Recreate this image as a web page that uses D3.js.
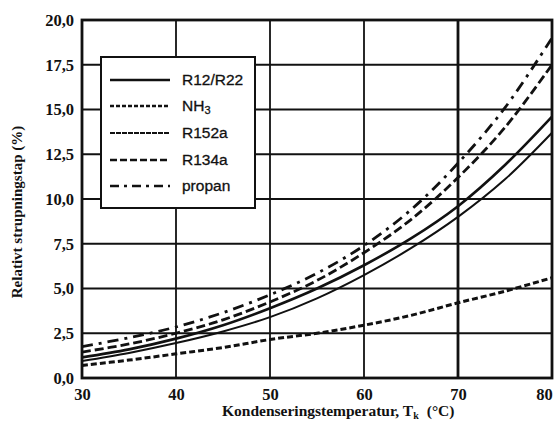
<!DOCTYPE html>
<html><head><meta charset="utf-8">
<script src="https://cdn.jsdelivr.net/npm/d3@7"></script>
<style>html,body{margin:0;padding:0;background:#fff;}svg{display:block;}</style>
</head><body>
<svg id="c" width="555" height="427"></svg>
<script>
const temps = [30, 35, 40, 45, 50, 55, 60, 65, 70, 75, 80];
const r12r22 = [1.15, 1.6, 2.2, 2.95, 3.9, 5.0, 6.3, 7.8, 9.6, 11.9, 14.6];
const nh3    = [0.7, 1.0, 1.35, 1.7, 2.15, 2.5, 2.95, 3.5, 4.2, 4.85, 5.6];
const r152a  = [0.95, 1.4, 1.95, 2.6, 3.4, 4.45, 5.75, 7.25, 9.0, 11.1, 13.7];
const r134a  = [1.45, 1.9, 2.5, 3.25, 4.25, 5.45, 7.0, 8.85, 11.2, 14.0, 17.5];
const propan = [1.75, 2.25, 2.85, 3.65, 4.65, 5.85, 7.4, 9.4, 12.0, 15.1, 19.0];
const seriesNames = ["R12/R22", "NH3", "R152a", "R134a", "propan"];
const xTicks = [30, 40, 50, 60, 70, 80];
const yTicks = [0, 2.5, 5, 7.5, 10, 12.5, 15, 17.5, 20];

const styles = {
  "R12/R22": {w: 2.6, dash: null},
  "NH3":     {w: 3.0, dash: "6,3"},
  "R152a":   {w: 2.0, dash: null},
  "R134a":   {w: 2.8, dash: "9,4"},
  "propan":  {w: 2.8, dash: "11,6,3,6"}
};
const legendDash = {
  "R12/R22": null, "NH3": "4,2", "R152a": "5,1", "R134a": "7,3", "propan": "9,5,3,5"
};
const seriesData = {"R12/R22": r12r22, "NH3": nh3, "R152a": r152a, "R134a": r134a, "propan": propan};

const svg = d3.select("#c");
const L = 82, R = 552, T = 20, B = 378;
const x = d3.scaleLinear().domain([30, 80]).range([L, R]);
const y = d3.scaleLinear().domain([0, 20]).range([B, T]);
const serif = "'Liberation Serif','DejaVu Serif',serif";
const sans = "'Liberation Sans',Arial,sans-serif";

// grid
const g = svg.append("g");
g.selectAll("line.h").data(yTicks.filter(d => d > 0 && d < 20)).enter().append("line")
  .attr("x1", L).attr("x2", R).attr("y1", d => y(d)).attr("y2", d => y(d))
  .attr("stroke", "#111").attr("stroke-width", 1.8);
g.selectAll("line.v").data(xTicks.filter(d => d > 30 && d < 80)).enter().append("line")
  .attr("y1", T).attr("y2", B).attr("x1", d => x(d)).attr("x2", d => x(d))
  .attr("stroke", "#111").attr("stroke-width", d => d === 70 ? 2.8 : 1.8);

// axes (labels via d3 axis)
const yAxis = d3.axisLeft(y).tickValues(yTicks).tickSize(0).tickPadding(8)
  .tickFormat(d => d3.format(".1f")(d).replace(".", ","));
const ya = svg.append("g").attr("transform", `translate(${L},0)`).call(yAxis);
ya.select(".domain").remove();
ya.selectAll("text").attr("font-family", serif).attr("font-weight", "bold").attr("font-size", 16.5).attr("fill", "#111");

const xAxis = d3.axisBottom(x).tickValues(xTicks).tickSize(0).tickPadding(10).tickFormat(d3.format("d"));
const xa = svg.append("g").attr("transform", `translate(0,${B})`).call(xAxis);
xa.select(".domain").remove();
xa.selectAll("text").attr("font-family", serif).attr("font-weight", "bold").attr("font-size", 16.5).attr("fill", "#111")
  .attr("dx", d => d === 80 ? -8 : 0);

// curves
svg.append("clipPath").attr("id", "pc").append("rect")
  .attr("x", L).attr("y", T).attr("width", R - L).attr("height", B - T);
const line = d3.line().x((d, i) => x(temps[i])).y(d => y(d)).curve(d3.curveCatmullRom);
seriesNames.forEach(n => {
  svg.append("path").datum(seriesData[n]).attr("d", line)
    .attr("fill", "none").attr("stroke", "#111")
    .attr("stroke-width", styles[n].w)
    .attr("stroke-dasharray", styles[n].dash)
    .attr("clip-path", "url(#pc)");
});

// frame
svg.append("rect").attr("x", L).attr("y", T).attr("width", R - L).attr("height", B - T)
  .attr("fill", "none").attr("stroke", "#111").attr("stroke-width", 2.8);

// legend
const lg = svg.append("g");
lg.append("rect").attr("x", 101).attr("y", 57).attr("width", 154).attr("height", 151)
  .attr("fill", "#fff").attr("stroke", "#111").attr("stroke-width", 2);
const rowY = [80, 106, 133, 160, 186];
seriesNames.forEach((n, i) => {
  lg.append("line").attr("x1", 110).attr("x2", 170).attr("y1", rowY[i]).attr("y2", rowY[i])
    .attr("stroke", "#111").attr("stroke-width", n === "R152a" ? 1.8 : 2.4)
    .attr("stroke-dasharray", legendDash[n]);
  const t = lg.append("text").attr("x", 182).attr("y", rowY[i] + 5)
    .attr("font-family", sans).attr("font-size", 15.5).attr("fill", "#111")
    .attr("stroke", "#111").attr("stroke-width", 0.3);
  if (n === "NH3") {
    t.text("NH");
    t.append("tspan").attr("font-size", 11).attr("dy", 3).text("3");
  } else t.text(n);
});

// axis titles
const xt = svg.append("text").attr("x", 222).attr("y", 416)
  .attr("font-family", serif).attr("font-weight", "bold").attr("font-size", 15.5).attr("fill", "#111");
xt.append("tspan").text("Kondenseringstemperatur, T");
xt.append("tspan").attr("font-size", 10).attr("dy", 3).text("k");
xt.append("tspan").attr("dy", -3).attr("dx", 8).text("(°C)");

svg.append("text").attr("transform", "translate(22,212) rotate(-90)")
  .attr("text-anchor", "middle")
  .attr("font-family", serif).attr("font-weight", "bold").attr("font-size", 15).attr("fill", "#111")
  .text("Relativt strupningstap (%)");
</script>
</body></html>
